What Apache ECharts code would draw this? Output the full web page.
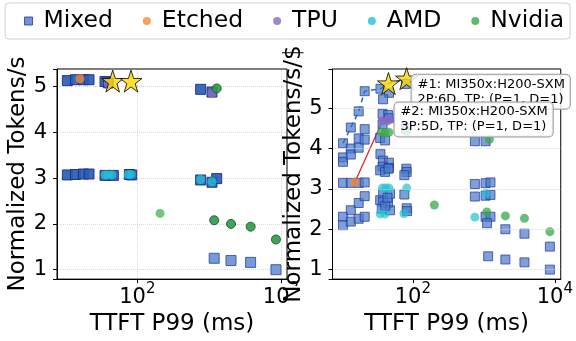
<!DOCTYPE html>
<html><head><meta charset="utf-8">
<script src="https://cdn.jsdelivr.net/npm/echarts@6/dist/echarts.min.js"></script>
<style>html,body{margin:0;padding:0;background:#fff}#c{width:576px;height:341px}</style>
</head><body><div id="c"></div>
<script>
const FONT = 'DejaVu Sans';
const legendNames = ['Mixed', 'Etched', 'TPU', 'AMD', 'Nvidia'];
const xAxisTitle = 'TTFT P99 (ms)';
const yTitleLeft = 'Normalized Tokens/s';
const yTitleRight = 'Normalized Tokens/s/$';

// ---- Left panel: [TTFT P99 ms, Normalized Tokens/s]
const leftMixedDense = [[32.6,5.13],[37.1,5.15],[42.1,5.15],[46.1,5.15],[59.6,5.11],[62.8,5.08],[276,4.94],[331,4.88],
  [32.6,3.07],[37.1,3.08],[42.1,3.09],[46.1,3.09],[59.6,3.06],[68.1,3.06],[88,3.08],[91.4,3.07],[276,2.96],[331,2.91],[357,2.99]];
const leftMixedLight = [[343,1.25],[449,1.2],[615,1.16],[923,1.0]];
const leftEtched = [[39.9,5.17]];
const leftTPU = [[62.8,5.07],[331,4.85]];
const leftAMD = [[59.6,3.07],[62.8,3.07],[66.4,3.07],[86.5,3.08],[90.4,3.08],[276,2.97],[331,2.92]];
const leftNvidiaLight = [[144,2.23]];
const leftNvidiaDark = [[357,4.96],[343,2.08],[449,2.0],[615,1.94],[923,1.66]];
const leftStars = [[67.4,5.12],[90.4,5.12]];

// ---- Right panel: [TTFT P99 ms, Normalized Tokens/s/$]
const rightMixed = [
  [10.4,4.13],[10.4,3.78],[10.4,3.67],[10.4,3.15],[10.4,2.31],[10.4,2.10],
  [13.4,4.52],[13.4,4.0],[13.4,3.85],[13.4,3.15],[13.4,2.47],[13.4,2.19],
  [17.3,4.92],[17.3,4.25],[17.3,4.02],[17.3,3.15],[17.3,2.65],[17.3,2.26],
  [21,5.42],[21,4.48],[21,4.22],[21,3.16],[21,2.82],[21,2.31],
  [35,5.48],[46.2,5.38],[38.1,5.22],[37.5,4.86],[45,4.83],[46.2,4.75],[37.5,4.6],[34.7,4.26],[40.7,4.2],
  [35,3.86],[38,3.7],[46,3.65],[37.5,3.55],[46,3.52],[34.7,3.46],[40.7,3.42],[45.5,3.5],
  [38.2,2.88],[47.8,2.88],[34.7,2.72],[38.2,2.68],[44.8,2.65],[36.5,2.51],[47.8,2.47],[41,2.58],[44,2.78],
  [81,3.5],[82,3.42],[76,3.34],[76,2.86],[82,2.52],[83,2.45],[80,5.6],[80,4.5],
  [748,4.18],[1057,4.18],[748,3.12],[1057,3.14],[1240,3.16],[748,2.81],[1057,2.83],[1240,2.85],
  [1057,2.31],[1240,2.31],[1110,2.15],[2010,2.0],[3730,1.89],[8510,1.57],[1150,1.33],[2010,1.25],[3730,1.18],[8510,1.0]];
const rightEtched = [[15.2,3.16]];
const rightTPU = [[37.5,4.69],[44.8,4.69]];
const rightAMD = [[37.4,3.02],[41.6,3.02],[46.2,3.02],[34.7,2.38],[40.7,2.38],[82,3.02],[75,2.39],[1070,2.89],[748,2.30]];
const rightNvidia = [[36.5,4.40],[40.7,4.39],[46.2,4.40],[82,4.42],[1200,4.23],[201,2.60],[1100,2.43],[2010,2.33],[3730,2.27],[8510,1.94]];
const rightPareto = [[10.4,4.13],[13.4,4.52],[17.3,4.92],[21,5.42],[35,5.48],[45.4,5.61],[81.7,5.73]];
const rightRedLine = [[15.2,3.16],[37.5,4.69],[55,4.69]];
const rightStars = [[45.4,5.61],[81.7,5.73]];
const annotations = ['#1: MI350x:H200-SXM\n2P:6D, TP: (P=1, D=1)', '#2: MI350x:H200-SXM\n3P:5D, TP: (P=1, D=1)'];
const rightXTicks = [100, 10000];

const STAR = 'path://M50,0 L61.2,34.5 L97.6,34.5 L68.2,55.9 L79.4,90.5 L50,69.1 L20.6,90.5 L31.8,55.9 L2.4,34.5 L38.8,34.5 Z';
const SQUARE = 'path://M0,0 L10,0 L10,10 L0,10 Z';
const C = {
  mixed: '#4a7bc8', mixedEdge: '#2436a0',
  etched: '#ef8a3a', tpu: '#8a68c6', amd: '#22c0d2', nvidia: '#3aa84c'
};

function logLabel(v) {
  const e = Math.log10(v), r = Math.round(e);
  if (Math.abs(e - r) > 1e-6) return '';
  return '{b|10}{s|' + r + '}';
}
function intLabel(v) {
  return Math.abs(v - Math.round(v)) < 1e-9 ? String(Math.round(v)) : '';
}
const rich = {
  b: {fontSize: 21, fontFamily: FONT, color: '#000', lineHeight: 26, verticalAlign: 'bottom'},
  s: {fontSize: 15, fontFamily: FONT, color: '#000', lineHeight: 26, verticalAlign: 'top'}
};
const axisCommon = {
  axisLine: {show: true, lineStyle: {color: '#000', width: 1}},
  axisTick: {show: true, length: 4, lineStyle: {color: '#000'}},
  splitLine: {show: true, showMinLine: false, showMaxLine: false, lineStyle: {color: '#d9d9d9', type: 'dotted', width: 1}},
  nameTextStyle: {fontSize: 23, fontFamily: FONT, color: '#000'},
  nameLocation: 'middle'
};
function xAxisDef(gi, min, max, extra) {
  return Object.assign({}, axisCommon, {
    type: 'log', logBase: 10, gridIndex: gi, min: min, max: max,
    name: xAxisTitle, nameGap: 20,
    axisLabel: {formatter: logLabel, rich: rich, margin: 3, showMinLabel: false, showMaxLabel: false}
  }, extra || {});
}
function yAxisDef(gi, min, max, name, gap, extra) {
  return Object.assign({}, axisCommon, {
    type: 'value', gridIndex: gi, min: min, max: max, name: name, nameGap: gap,
    axisLabel: {formatter: intLabel, fontSize: 21, fontFamily: FONT, color: '#000', margin: 10}
  }, extra || {});
}
function scat(name, data, gi, symbol, size, style, z) {
  return {type: 'scatter', name: name, data: data, xAxisIndex: gi, yAxisIndex: gi,
    symbol: symbol, symbolSize: size, itemStyle: style, z: z || 2, silent: true};
}
const mixedStyle = {color: C.mixed, borderColor: C.mixedEdge, borderWidth: 1, opacity: 0.72};
const mixedDenseStyle = {color: '#2a5db3', borderColor: '#1a2c8a', borderWidth: 1, opacity: 0.92};
const mixedLightStyle = {color: '#6a93d4', borderColor: '#3a4fb0', borderWidth: 1, opacity: 0.92};
const starStyle = {color: '#ffd700', borderColor: '#000', borderWidth: 1};

const chart = echarts.init(document.getElementById('c'), null, {renderer: 'canvas'});
chart.setOption({
  animation: false,
  backgroundColor: '#fff',
  textStyle: {fontFamily: FONT},
  legend: {
    top: 3, left: 5, padding: [6, 6, 6, 19], itemWidth: 20, itemHeight: 8, itemGap: 30,
    symbolKeepAspect: true,
    borderColor: '#d0d0d0', borderWidth: 1, borderRadius: 4, backgroundColor: '#fff',
    textStyle: {fontSize: 23.5, fontFamily: FONT, color: '#000'},
    data: [
      {name: legendNames[0], icon: SQUARE, itemStyle: {color: C.mixed, borderColor: C.mixedEdge, borderWidth: 1, opacity: 0.8}},
      {name: legendNames[1], icon: 'circle', itemStyle: {color: C.etched, opacity: 0.8}},
      {name: legendNames[2], icon: 'circle', itemStyle: {color: C.tpu, opacity: 0.8}},
      {name: legendNames[3], icon: 'circle', itemStyle: {color: C.amd, opacity: 0.8}},
      {name: legendNames[4], icon: 'circle', itemStyle: {color: C.nvidia, opacity: 0.8}}
    ]
  },
  grid: [
    {left: 57, top: 69, width: 230, height: 215, show: true, z: 3, borderColor: '#000', borderWidth: 1, backgroundColor: 'transparent'},
    {left: 332.5, top: 69, width: 230, height: 215, show: true, z: 3, borderColor: '#000', borderWidth: 1, backgroundColor: 'transparent'}
  ],
  xAxis: [
    xAxisDef(0, 27.6, 1102),
    xAxisDef(1, 7.4, 12100, {
      axisTick: {show: true, length: 4, lineStyle: {color: '#000'}, customValues: rightXTicks},
      axisLabel: {formatter: logLabel, rich: rich, margin: 3, customValues: rightXTicks}
    })
  ],
  yAxis: [
    yAxisDef(0, 0.795, 5.384, yTitleLeft, 27),
    yAxisDef(1, 0.765, 5.97, yTitleRight, 20, {z: 10})
  ],
  series: [
    scat('Mixed', leftMixedDense, 0, 'rect', 10, mixedDenseStyle),
    scat('Mixed', leftMixedLight, 0, 'rect', 10, mixedLightStyle),
    scat('Etched', leftEtched, 0, 'circle', 9, {color: C.etched, opacity: 0.8}),
    scat('TPU', leftTPU, 0, 'circle', 9, {color: C.tpu, opacity: 0.85}),
    scat('AMD', leftAMD, 0, 'circle', 9, {color: C.amd, opacity: 0.8}),
    scat('Nvidia', leftNvidiaLight, 0, 'circle', 9, {color: '#5cbc64', opacity: 0.85}),
    scat('Nvidia', leftNvidiaDark, 0, 'circle', 9, {color: '#2e9a48', borderColor: '#1a5a2a', borderWidth: 1, opacity: 0.9}),
    scat('Best', leftStars, 0, STAR, 22, starStyle, 6),
    scat('Mixed', rightMixed, 1, 'rect', 9, mixedStyle),
    scat('Etched', rightEtched, 1, 'circle', 9, {color: C.etched, opacity: 0.85}, 3),
    scat('TPU', rightTPU, 1, 'circle', 9, {color: C.tpu, opacity: 0.8}),
    scat('AMD', rightAMD, 1, 'circle', 9, {color: C.amd, opacity: 0.7}),
    scat('Nvidia', rightNvidia, 1, 'circle', 9, {color: C.nvidia, opacity: 0.75}),
    {type: 'line', name: 'Pareto', data: rightPareto, xAxisIndex: 1, yAxisIndex: 1, symbol: 'none', silent: true, z: 4,
      lineStyle: {color: '#2a6cb8', width: 1.5, type: [5, 4]}},
    {type: 'line', name: 'Homog', data: rightRedLine, xAxisIndex: 1, yAxisIndex: 1, symbol: 'none', silent: true, z: 2,
      lineStyle: {color: '#e02828', width: 1.3}},
    scat('Best', rightStars, 1, STAR, 22, starStyle, 6)
  ]
});

const pA = chart.convertToPixel({gridIndex: 1}, rightStars[1]);
const pB = chart.convertToPixel({gridIndex: 1}, rightStars[0]);
const boxStyle = {font: '13px "DejaVu Sans"', fill: '#000', lineHeight: 15,
  backgroundColor: 'rgba(255,255,255,0.82)', borderColor: '#9a9a9a', borderWidth: 1, borderRadius: 4, padding: [2, 5, 2, 6]};
chart.setOption({
  graphic: [
    {type: 'rect', shape: {x: 289.5, y: 286, width: 20, height: 26}, style: {fill: '#fff'}, z: 5, silent: true},
    {type: 'text', x: pA[0] + 5, y: pA[1] - 4, z: 100, silent: true, style: Object.assign({text: annotations[0]}, boxStyle)},
    {type: 'text', x: pB[0] + 6, y: pB[1] + 19, z: 101, silent: true, style: Object.assign({text: annotations[1]}, boxStyle)}
  ]
});
</script></body></html>
